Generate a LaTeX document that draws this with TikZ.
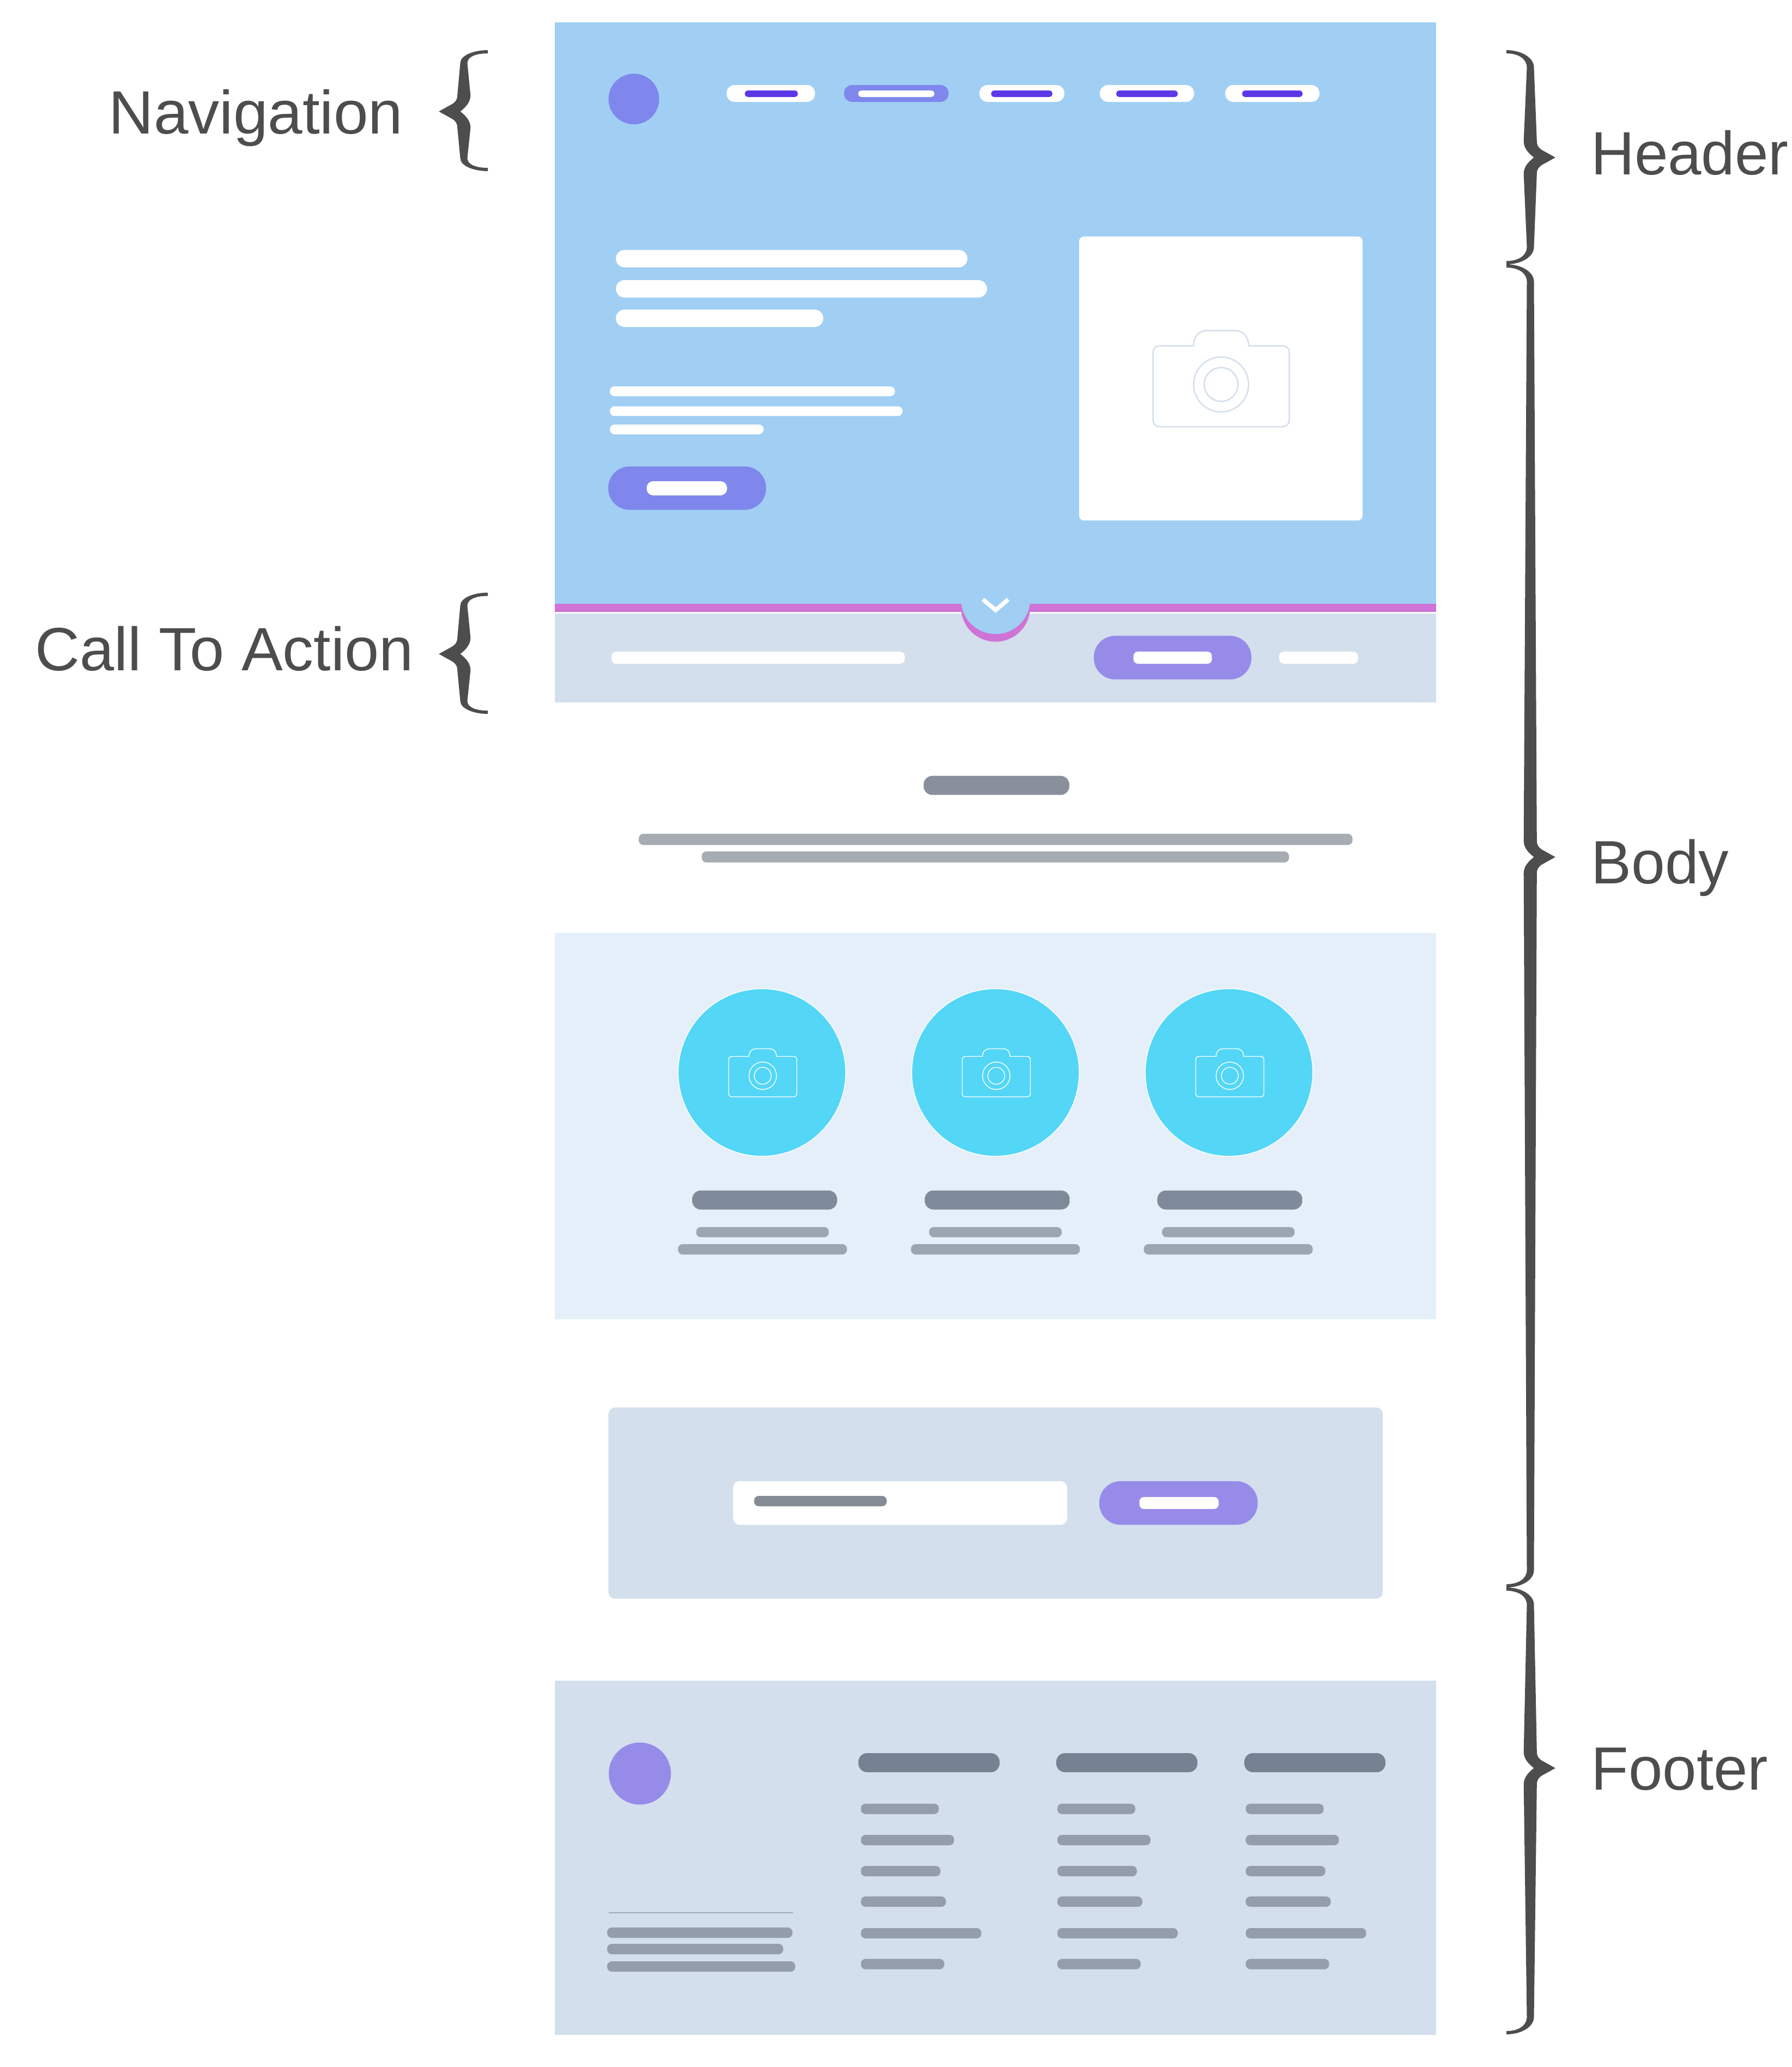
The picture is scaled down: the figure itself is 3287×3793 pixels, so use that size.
\documentclass[tikz,border=0pt]{standalone}
\usepackage{graphicx}
\usepackage{fontspec}
\setmainfont{Liberation Sans}
\definecolor{heroblue}{HTML}{A0CFF3}
\definecolor{pinkband}{HTML}{CF73D6}
\definecolor{panelgray}{HTML}{D3DFED}
\definecolor{panellight}{HTML}{E5EFF9}
\definecolor{btnpurple}{HTML}{978BEA}
\definecolor{logoblue}{HTML}{7F87EC}
\definecolor{navdash}{HTML}{5C38E8}
\definecolor{photocyan}{HTML}{54D6F6}
\definecolor{headdark}{HTML}{8A909B}
\definecolor{headlight}{HTML}{A7ACB3}
\definecolor{itemdark}{HTML}{7F8B9B}
\definecolor{itemlight}{HTML}{9CA6B2}
\definecolor{footdark}{HTML}{768191}
\definecolor{footlight}{HTML}{939DAB}
\definecolor{inputbar}{HTML}{848B94}
\definecolor{markgray}{HTML}{4D4D4D}
\tikzset{
    dashbar/.style={fill=#1,rounded corners=0.055cm},
    linebar/.style={fill=#1,rounded corners=0.085cm},
    midbar/.style={fill=#1,rounded corners=0.12cm},
    navbar/.style={fill=#1,rounded corners=0.15cm},
    fatbar/.style={fill=#1,rounded corners=0.16cm},
    pillbar/.style={fill=#1,rounded corners=0.39cm},
    sidelabel/.style={anchor=base west,inner sep=0pt,text=markgray,font=\fontsize{31.9pt}{36pt}\selectfont},
    bracket/.style={fill=markgray},
    bigcam/.style={draw=panelgray,line width=0.025cm},
    smallcam/.style={draw=white,line width=0.014cm}
}
% x, direction, top, tip, bottom, length of the end curve
\newcommand{\curlybrace}[6]{
    \begin{scope}[shift={(#1,0)},xscale=#2]
        \fill [bracket] (0,#3) .. controls (26,#3) and (50.5,#3+#6*0.4) .. (50.5,#3+#6)
            -- (55.8,#4-30) .. controls (55.8,#4-22) and (59,#4-18) .. (64.6,#4-14)
            -- (89.8,#4) -- (64.6,#4+14) .. controls (59,#4+18) and (55.8,#4+22) .. (55.8,#4+30)
            -- (50.5,#5-#6) .. controls (50.5,#5-#6*0.4) and (26,#5) .. (0,#5)
            -- (0,#5-6) .. controls (22,#5-6) and (37.5,#5-#6*0.5) .. (37.5,#5-#6)
            -- (31.7,#4+30) .. controls (31.7,#4+18) and (39,#4+9) .. (50.4,#4)
            .. controls (39,#4-9) and (31.7,#4-18) .. (31.7,#4-30)
            -- (37.5,#3+#6) .. controls (37.5,#3+#6*0.5) and (22,#3+6) .. (0,#3+6) -- cycle;
    \end{scope}
}
% x and y of the lens, scale, style
\newcommand{\camera}[4]{
    \begin{scope}[shift={(#1,#2)},scale=#3]
        \draw [#4] (-50.5,-71) .. controls (-50.5,-88) and (-40,-99) .. (-26,-99) -- (26,-99)
            .. controls (40,-99) and (50.5,-88) .. (50.5,-71) -- (113,-71)
            .. controls (120,-71) and (125,-66) .. (125,-59) -- (125,65.5)
            .. controls (125,72) and (120,77.5) .. (113,77.5) -- (-113,77.5)
            .. controls (-120,77.5) and (-125,72) .. (-125,65.5) -- (-125,-59)
            .. controls (-125,-66) and (-120,-71) .. (-113,-71) -- cycle;
        \draw [#4] (0,0) circle (50.4);
        \draw [#4] (0,0) circle (31);
    \end{scope}
}
\begin{document}
\begin{tikzpicture}[x=0.01cm,y=-0.01cm]
    \useasboundingbox (0,0) rectangle (3287,3793);
    % Call to action strip
    \fill [panelgray] (1018,1126) rectangle (2635,1288.7);
    \fill [pinkband] (1018,1108) rectangle (2635,1122.7);
    \fill [pinkband] (1826.7,1114) circle (63.5);
    % Hero
    \fill [heroblue] (1018,41) rectangle (2635,1108);
    \fill [heroblue] (1826.7,1100) circle (63.5);
    \draw [white,line width=0.077cm] (1803.5,1100) -- (1826.7,1119.5) -- (1850,1100);
    % Logo and menu
    \fill [logoblue] (1163,181.7) circle (46.5);
    \foreach \pilla/\pillb/\dasha/\dashb in {1333/1495.5/1366.5/1464,1797/1953/1818.5/1931,2018/2191/2048/2161,2248/2421/2279/2390}{
        \fill [navbar=white] (\pilla,156) rectangle (\pillb,187);
        \fill [dashbar=navdash] (\dasha,166) rectangle (\dashb,178);
    }
    \fill [navbar=logoblue] (1548.6,156) rectangle (1740.5,187);
    \fill [dashbar=white] (1574.6,166) rectangle (1714.5,178);
    % Hero text
    \fill [fatbar=white] (1130,458.5) rectangle (1775,490.5);
    \fill [fatbar=white] (1130,514) rectangle (1811,546);
    \fill [fatbar=white] (1130,568) rectangle (1510.6,600);
    \fill [linebar=white] (1119,709) rectangle (1642,727);
    \fill [linebar=white] (1119,745.5) rectangle (1656,763.4);
    \fill [linebar=white] (1119,779) rectangle (1401,797);
    % Hero button
    \fill [pillbar=logoblue] (1116,856) rectangle (1405.5,935.5);
    \fill [midbar=white] (1186.5,883) rectangle (1334,909);
    % Hero picture
    \fill [linebar=white] (1980,434) rectangle (2500,955);
    \camera{2240.5}{705.5}{1}{bigcam}
    % Strip content
    \fill [linebar=white] (1122,1195.7) rectangle (1660,1218);
    \fill [pillbar=btnpurple] (2007,1166.7) rectangle (2296,1246.7);
    \fill [linebar=white] (2079.6,1195.7) rectangle (2223.7,1218);
    \fill [linebar=white] (2347,1195.7) rectangle (2491.6,1218);
    % Section heading
    \fill [fatbar=headdark] (1694.6,1423.7) rectangle (1962,1458.7);
    \fill [linebar=headlight] (1172,1530) rectangle (2481.5,1550.7);
    \fill [linebar=headlight] (1287.7,1562.3) rectangle (2365,1582.7);
    % Three features
    \fill [panellight] (1018,1712) rectangle (2635,2420.5);
    \foreach \col in {0,1,2}{
        \fill [photocyan,draw=white,line width=0.014cm] (1398+428.5*\col,1968) circle (153.7);
        \camera{1399.5+428.5*\col}{1974}{0.5}{smallcam}
        \fill [fatbar=itemdark] (1270+426.7*\col,2184.5) rectangle (1536+426.7*\col,2219.5);
        \fill [linebar=itemlight] (1277.4+427.3*\col,2251.7) rectangle (1520.8+427.3*\col,2270.3);
        \fill [linebar=itemlight] (1244+427.3*\col,2283) rectangle (1554+427.3*\col,2302);
    }
    % Sign up box
    \fill [midbar=panelgray] (1116.4,2582.7) rectangle (2537,2933.7);
    \fill [midbar=white] (1344.8,2718) rectangle (1958,2798);
    \fill [linebar=inputbar] (1383.5,2745) rectangle (1627,2764);
    \fill [pillbar=btnpurple] (2017,2718) rectangle (2307.6,2798);
    \fill [linebar=white] (2090.5,2747) rectangle (2236,2769);
    % Footer
    \fill [panelgray] (1018,3084) rectangle (2635,3734);
    \fill [btnpurple] (1174,3254.5) circle (57);
    \fill [footlight!85!panelgray] (1117,3509) rectangle (1455,3511);
    \fill [linebar=footlight] (1114,3537) rectangle (1454,3556);
    \fill [linebar=footlight] (1114,3567) rectangle (1437,3586);
    \fill [linebar=footlight] (1114,3599) rectangle (1459,3618);
    \foreach \head/\start in {1575/1579.6,1938/1940,2283/2285.7}{
        \fill [fatbar=footdark] (\head,3217) rectangle (\head+259,3252);
        \foreach \top/\len in {3309.8/143,3367/171,3424/146,3480/156,3538/221,3594.6/153}{
            \fill [linebar=footlight] (\start,\top) rectangle (\start+\len,\top+19);
        }
    }
    % Braces
    \curlybrace{895}{-1}{92}{204.5}{314}{24}
    \curlybrace{895}{-1}{1087.5}{1200}{1310}{24}
    \curlybrace{2764}{1}{92}{289}{485}{32}
    \curlybrace{2764}{1}{485}{1572.7}{2913}{32}
    \curlybrace{2764}{1}{2913}{3244.5}{3733}{32}
    % Labels
    \node [sidelabel] (navlabel) at (199,245.5) {\scalebox{1.018}[1]{Navigation}};
    \node [sidelabel] (ctalabel) at (64,1230) {\scalebox{1.012}[1]{Call To Action}};
    \node [sidelabel] (headerlabel) at (2918.5,320) {\scalebox{0.985}[1]{Header}};
    \node [sidelabel] (bodylabel) at (2919,1621.7) {\scalebox{0.988}[1]{Body}};
    \node [sidelabel] (footerlabel) at (2919,3284) {Footer};
\end{tikzpicture}
\end{document}
